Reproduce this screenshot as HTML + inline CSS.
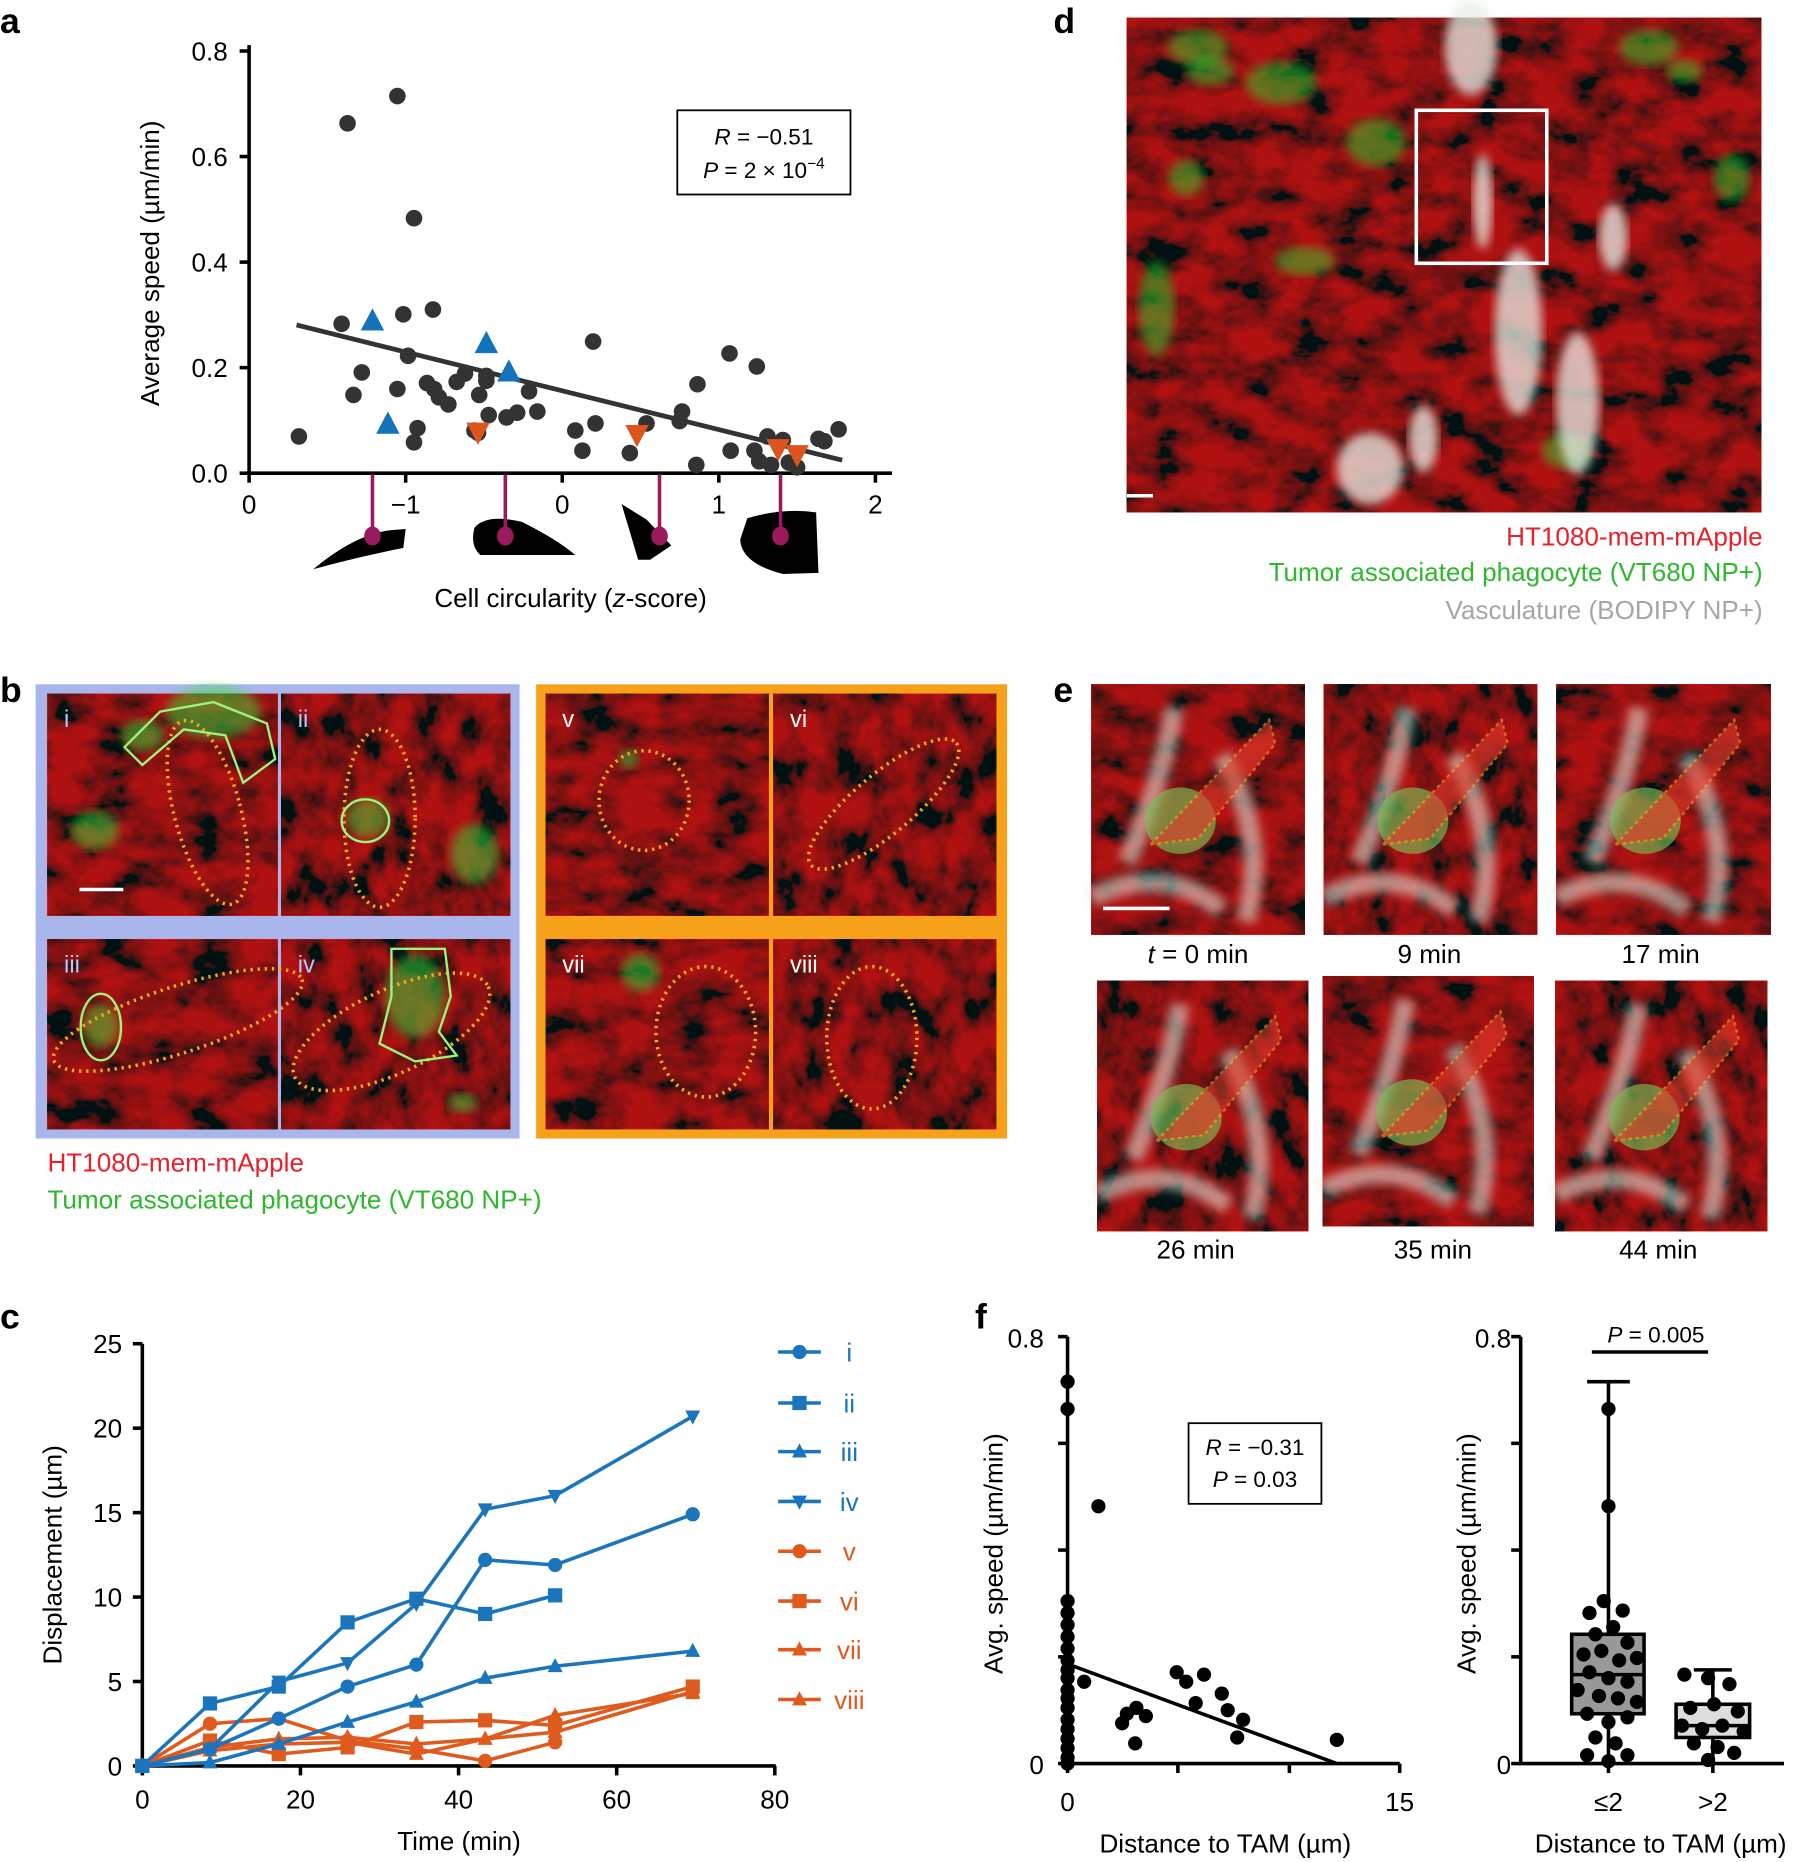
<!DOCTYPE html>
<html><head><meta charset="utf-8"><style>
html,body{margin:0;padding:0;background:#fff}
svg{display:block}
text{font-family:"Liberation Sans",Arial,sans-serif}
</style></head><body>
<svg id="s" width="1803" height="1862" viewBox="0 0 1520 1570" preserveAspectRatio="none" xmlns="http://www.w3.org/2000/svg">
<defs>
<filter id="tex" x="0" y="0" width="100%" height="100%">
<feTurbulence type="fractalNoise" baseFrequency="0.025 0.04" numOctaves="4" seed="3"/>
<feColorMatrix values="2.6 0 0 0 -0.75  0 0 0 0 0.01  0 0 0 0 0.01  0 0 0 0 1"/>
</filter>
<filter id="tex2" x="0" y="0" width="100%" height="100%">
<feTurbulence type="fractalNoise" baseFrequency="0.04 0.03" numOctaves="4" seed="7"/>
<feColorMatrix values="2.6 0 0 0 -0.8  0 0 0 0 0.01  0 0 0 0 0.01  0 0 0 0 1"/>
</filter>
<filter id="bl"><feGaussianBlur stdDeviation="4"/></filter>
</defs>
<g id="g"></g>
</svg>
<script>
const NS="http://www.w3.org/2000/svg";const G=document.getElementById('g');
function el(t,a,txt){const e=document.createElementNS(NS,t);for(const k in a)e.setAttribute(k,a[k]);if(txt!=null)e.textContent=txt;G.appendChild(e);return e;}
function T(x,y,s,o){o=o||{};return el('text',Object.assign({x:x,y:y,'font-size':o.fs||21,'text-anchor':o.a||'middle',fill:o.c||'#000','font-weight':o.w||'normal'},o.ex||{}),s);}
function L(x1,y1,x2,y2,c,w){el('line',{x1,y1,x2,y2,stroke:c||'#000','stroke-width':w||3});}
function tri(x,y,r,up,c){const p=up?`${x},${y-r} ${x-r*0.9},${y+r*0.7} ${x+r*0.9},${y+r*0.7}`:`${x},${y+r} ${x-r*0.9},${y-r*0.7} ${x+r*0.9},${y-r*0.7}`;el('polygon',{points:p,fill:c});}
function mark(type,x,y,c,r){r=r||7;if(type=='c')el('circle',{cx:x,cy:y,r:r,fill:c});else if(type=='s')el('rect',{x:x-r,y:y-r,width:2*r,height:2*r,fill:c});else tri(x,y,r+1,type=='u',c);}
function img(x,y,w,h,seed){el('rect',{x,y,width:w,height:h,fill:'#3a0606'});el('rect',{x,y,width:w,height:h,filter:seed?'url(#tex2)':'url(#tex)',opacity:0.95});el('rect',{x,y,width:w,height:h,fill:'#000',opacity:0.28});}
T(0,28,'a',{a:'start',fs:30,w:'bold'});T(888,28,'d',{a:'start',fs:30,w:'bold'});
T(0,592,'b',{a:'start',fs:30,w:'bold'});T(888,592,'e',{a:'start',fs:30,w:'bold'});
T(0,1120,'c',{a:'start',fs:30,w:'bold'});T(822,1120,'f',{a:'start',fs:30,w:'bold'});
// ===== panel a
L(210,38,210,400);L(208,399,752,399);
[[399,'0.0'],[310,'0.2'],[221,'0.4'],[132,'0.6'],[43,'0.8']].forEach(([y,s])=>{L(202,y,210,y);T(192,y+8,s,{a:'end',fs:22});});
[[210,'0'],[342,'\u22121'],[474,'0'],[606,'1'],[738,'2']].forEach(([x,s])=>{L(x,399,x,407);T(x,433,s,{fs:22});});
T(0,0,'Average speed (\u00b5m/min)',{fs:22,ex:{transform:'translate(134,222) rotate(-90)'}});
el('rect',{x:571,y:93,width:146,height:71,fill:'none',stroke:'#000','stroke-width':1.5});
el('text',{x:644,y:122,'font-size':19,'text-anchor':'middle'}).innerHTML='<tspan font-style="italic">R</tspan> = \u22120.51';
el('text',{x:644,y:150,'font-size':19,'text-anchor':'middle'}).innerHTML='<tspan font-style="italic">P</tspan> = 2 \u00d7 10<tspan dy="-8" font-size="13">\u22124</tspan>';
L(250,274,710,388,'#333',4);
[[252,368],[293,104],[335,81],[349,184],[288,273],[305,314],[298,333],[340,265],[365,261],[344,300],[335,328],[352,361],[349,373],[360,323],[370,335],[378,341],[385,322],[392,315],[404,333],[410,321],[412,350],[400,363],[427,352],[436,348],[446,330],[453,347],[485,363],[491,380],[500,288],[502,357],[531,382],[545,357],[575,347],[573,355],[588,324],[587,392],[615,298],[616,380],[638,309],[636,380],[640,389],[647,368],[650,392],[660,371],[665,390],[690,370],[695,372],[707,362],[672,394],[410,317],[403,365],[366,328]].forEach(([x,y])=>mark('c',x,y,'#333',7));
[[314,271],[327,358],[410,290],[429,314]].forEach(([x,y])=>tri(x,y,11,true,'#1374bb'));
[[403,364],[537,366],[656,378],[672,383]].forEach(([x,y])=>tri(x,y,11,false,'#dc551c'));
el('path',{d:'M264,480 Q300,450 330,447 L342,446 L340,462 Q300,470 264,480Z',fill:'#000'});
el('path',{d:'M400,445 Q410,433 440,440 Q470,455 485,468 L405,468 Q396,460 400,445Z',fill:'#000'});
el('path',{d:'M524,425 L545,438 L566,460 L548,472 L538,472 Q530,445 524,425Z',fill:'#000'});
el('path',{d:'M630,437 Q660,428 688,432 L690,483 L660,484 Q625,475 624,455Z',fill:'#000'});
[314,426,556,658].forEach(x=>{L(x,400,x,452,'#9b1a5f',3);el('ellipse',{cx:x,cy:452,rx:7,ry:8,fill:'#9b1a5f'});});
el('text',{x:481,y:512,'font-size':22,'text-anchor':'middle'}).innerHTML='Cell circularity (<tspan font-style="italic">z</tspan>-score)';
// ===== panel d
img(950,15,535,417,0);
[[1010,40,25,15],[1080,70,30,18],[1160,120,25,20],[975,260,15,40],[1020,60,20,12],[1320,380,20,15],[1460,150,15,20],[1100,220,25,12],[1390,40,25,15],[1000,150,15,15],[1420,60,15,10]].forEach(([x,y,rx,ry])=>el('ellipse',{cx:x,cy:y,rx,ry,fill:'#2fd02f',opacity:0.5,filter:'url(#bl)'}));
[[1240,40,22,40],[1280,280,20,70],[1330,340,18,60],[1155,395,28,30],[1200,370,12,28],[1360,200,12,28],[1250,170,8,40]].forEach(([x,y,rx,ry])=>el('ellipse',{cx:x,cy:y,rx,ry,fill:'#e8efe6',opacity:0.75,filter:'url(#bl)'}));
el('rect',{x:1194,y:93,width:110,height:129,fill:'none',stroke:'#fff','stroke-width':3});
L(950,418,972,418,'#fff',3);
T(1486,460,'HT1080-mem-mApple',{a:'end',fs:22,c:'#e8202a'});
T(1486,490,'Tumor associated phagocyte (VT680 NP+)',{a:'end',fs:22,c:'#2db82d'});
T(1486,522,'Vasculature (BODIPY NP+)',{a:'end',fs:22,c:'#a6a6a6'});
// ===== panel b
el('rect',{x:30,y:577,width:408,height:383,fill:'#a9b6ec'});
el('rect',{x:452,y:577,width:397,height:383,fill:'#f7a11a'});
const bimgs=[[40,585,194,187,'i'],[237,585,193,187,'ii'],[40,792,194,160,'iii'],[237,792,193,160,'iv'],[460,585,188,187,'v'],[652,585,188,187,'vi'],[460,792,188,160,'vii'],[652,792,188,160,'viii']];
bimgs.forEach(([x,y,w,h,s],i)=>{img(x,y,w,h,i%2);T(x+14,y+28,s,{a:'start',fs:20,c:i<4?'#b8c8ff':'#fff'});});
[[180,600,40,22],[120,620,18,13],[310,690,18,16],[85,865,15,18],[350,840,25,35],[400,720,20,25],[80,700,20,16],[530,640,8,8],[540,820,16,16],[390,930,12,8]].forEach(([x,y,rx,ry])=>el('ellipse',{cx:x,cy:y,rx,ry,fill:'#3add3a',opacity:0.5,filter:'url(#bl)'}));
const dot={fill:'none',stroke:'#f5a623','stroke-width':3,'stroke-dasharray':'2 4'};
el('ellipse',Object.assign({cx:175,cy:685,rx:28,ry:80,transform:'rotate(-15 175 685)'},dot));
el('ellipse',Object.assign({cx:320,cy:690,rx:30,ry:75},dot));
el('ellipse',Object.assign({cx:150,cy:860,rx:110,ry:28,transform:'rotate(-18 150 860)'},dot));
el('ellipse',Object.assign({cx:330,cy:870,rx:90,ry:35,transform:'rotate(-25 330 870)'},dot));
el('ellipse',Object.assign({cx:543,cy:675,rx:38,ry:42},dot));
el('ellipse',Object.assign({cx:745,cy:678,rx:80,ry:25,transform:'rotate(-40 745 678)'},dot));
el('ellipse',Object.assign({cx:595,cy:870,rx:42,ry:55},dot));
el('ellipse',Object.assign({cx:735,cy:875,rx:38,ry:60},dot));
const gl={fill:'none',stroke:'#9cf57a','stroke-width':2};
el('path',Object.assign({d:'M105,630 L135,600 L180,592 L225,610 L232,640 L205,660 L190,620 L155,615 L120,645Z'},gl));
el('ellipse',Object.assign({cx:308,cy:692,rx:20,ry:18},gl));
el('ellipse',Object.assign({cx:85,cy:866,rx:17,ry:28},gl));
el('path',Object.assign({d:'M330,800 L375,800 L380,840 L370,870 L385,890 L350,895 L320,880 L330,840Z'},gl));
L(67,750,104,750,'#fff',3);
T(40,988,'HT1080-mem-mApple',{a:'start',fs:22,c:'#e8202a'});
T(40,1019,'Tumor associated phagocyte (VT680 NP+)',{a:'start',fs:22,c:'#2db82d'});
// ===== panel e
const eimgs=[[920,577,180,211],[1116,577,180,211],[1312,577,181,211],[925,827,178,211],[1115,823,178,211],[1311,827,179,211]];
eimgs.forEach(([x,y,w,h],i)=>{img(x,y,w,h,i%2);
el('path',{d:`M${x+70},${y+20} Q${x+60},${y+80} ${x+30},${y+150} M${x+110},${y+60} Q${x+150},${y+130} ${x+130},${y+200} M${x},${y+180} Q${x+60},${y+150} ${x+110},${y+190}`,fill:'none',stroke:'#d8ddd0','stroke-width':16,opacity:0.6,filter:'url(#bl)'});
el('ellipse',{cx:x+75,cy:y+115,rx:30,ry:28,fill:'#7bbf55',opacity:0.65});
el('path',{d:`M${x+50},${y+135} L${x+150},${y+30} L${x+155},${y+50} L${x+90},${y+130}Z`,fill:'#e23a2a',opacity:0.6,stroke:'#f5a623','stroke-dasharray':'3 3','stroke-width':2});});
L(930,766,986,766,'#fff',3);
el('text',{x:1010,y:812,'font-size':22,'text-anchor':'middle'}).innerHTML='<tspan font-style="italic">t</tspan> = 0 min';
T(1205,812,'9 min',{fs:22});T(1400,812,'17 min',{fs:22});
T(1008,1061,'26 min',{fs:22});T(1208,1061,'35 min',{fs:22});T(1398,1061,'44 min',{fs:22});
// ===== panel c
L(120,1133,120,1490);L(118,1489,654,1489);
[0,5,10,15,20,25].forEach(v=>{const y=1489-v*14.24;L(112,y,120,y);T(103,y+8,v,{a:'end',fs:22});});
[0,20,40,60,80].forEach(v=>{const x=120+v*6.665;L(x,1489,x,1497);T(x,1525,v,{fs:22});});
T(0,0,'Displacement (\u00b5m)',{fs:22,ex:{transform:'translate(52,1311) rotate(-90)'}});
T(387,1560,'Time (min)',{fs:22});
const tx=[120,177,235,293,351,409,468,584];
const B='#1a75bc',O='#e05a1e';
const ser=[['c',B,[0,1.0,2.8,4.7,6.0,12.2,11.9,14.9]],['s',B,[0,3.7,4.7,8.5,9.9,9.0,10.1]],['u',B,[0,0.2,1.3,2.6,3.8,5.2,5.9,6.8]],['d',B,[0,1.0,5.0,6.1,9.6,15.2,16.0,20.7]],
['c',O,[0,2.5,2.8,1.5,1.0,0.3,1.4]],['s',O,[0,1.5,0.7,1.1,2.6,2.7,2.4,4.7]],['u',O,[0,1.1,1.6,1.7,1.3,1.6,2.0,4.4]],['u',O,[0,0.9,1.3,1.4,0.7,1.6,3.0,4.3]]];
ser.slice().reverse().forEach(([m,c,v])=>{const pts=v.map((d,i)=>[tx[i],1489-d*14.24]);el('polyline',{points:pts.map(p=>p.join(',')).join(' '),fill:'none',stroke:c,'stroke-width':3});pts.forEach(([x,y])=>mark(m,x,y,c,6));});
const labs=['i','ii','iii','iv','v','vi','vii','viii'],ly=[1140,1183,1224,1266,1308,1350,1391,1433];
ser.forEach(([m,c],i)=>{L(656,ly[i],692,ly[i],c,3);mark(m,674,ly[i],c,6);T(716,ly[i]+8,labs[i],{fs:22,c:c});});
// ===== panel f left
L(900,1127,900,1488);L(899,1487,1180,1487);
[0,0.2,0.4,0.6,0.8].forEach(v=>{const y=1487-v*450;L(892,y,900,y);});
T(880,1136,'0.8',{a:'end',fs:22});T(880,1496,'0',{a:'end',fs:22});
[900,993,1087,1180].forEach(x=>L(x,1487,x,1495));
T(900,1527,'0',{fs:22});T(1180,1527,'15',{fs:22});
T(0,0,'Avg. speed (\u00b5m/min)',{fs:22,ex:{transform:'translate(845,1310) rotate(-90)'}});
T(1033,1562,'Distance to TAM (\u00b5m)',{fs:22});
[1165,1188,1350,1360,1370,1380,1390,1400,1408,1415,1425,1432,1440,1450,1458,1466,1474,1482,1487].forEach(y=>mark('c',900,y,'#000',6));
[[926,1270],[950,1445],[958,1440],[966,1447],[946,1453],[957,1470],[992,1410],[1000,1418],[1015,1412],[1008,1436],[1030,1428],[1035,1442],[1048,1450],[1043,1465],[1127,1467],[914,1418]].forEach(([x,y])=>mark('c',x,y,'#000',6));
L(900,1403,1127,1487,'#000',3);
el('rect',{x:1002,y:1200,width:112,height:68,fill:'none',stroke:'#000','stroke-width':1.5});
el('text',{x:1058,y:1227,'font-size':19,'text-anchor':'middle'}).innerHTML='<tspan font-style="italic">R</tspan> = \u22120.31';
el('text',{x:1058,y:1254,'font-size':19,'text-anchor':'middle'}).innerHTML='<tspan font-style="italic">P</tspan> = 0.03';
// ===== panel f right
L(1282,1127,1282,1488);L(1281,1487,1504,1487);
[0,0.2,0.4,0.6,0.8].forEach(v=>{const y=1487-v*450;L(1274,y,1282,y);});
T(1274,1136,'0.8',{a:'end',fs:22});T(1274,1496,'0',{a:'end',fs:22});
L(1356,1487,1356,1495);L(1444,1487,1444,1495);
T(1356,1527,'\u22642',{fs:22});T(1444,1527,'>2',{fs:22});
T(0,0,'Avg. speed (\u00b5m/min)',{fs:22,ex:{transform:'translate(1244,1310) rotate(-90)'}});
T(1400,1562,'Distance to TAM (\u00b5m)',{fs:22});
L(1356,1165,1356,1487,'#000',3);L(1338,1165,1374,1165,'#000',3);
el('rect',{x:1325,y:1378,width:61,height:67,fill:'#999',stroke:'#000','stroke-width':3});L(1325,1412,1386,1412,'#000',3);
L(1444,1408,1444,1487,'#000',3);L(1428,1408,1460,1408,'#000',3);
el('rect',{x:1413,y:1437,width:62,height:28,fill:'#ddd',stroke:'#000','stroke-width':3});L(1413,1455,1475,1455,'#000',3);
[[1356,1188],[1356,1270],[1352,1350],[1340,1360],[1368,1358],[1345,1378],[1360,1372],[1372,1385],[1335,1395],[1350,1392],[1365,1400],[1380,1398],[1340,1410],[1356,1415],[1372,1418],[1330,1425],[1348,1430],[1364,1432],[1380,1435],[1338,1445],[1356,1452],[1372,1448],[1345,1465],[1362,1470],[1338,1480],[1356,1485],[1372,1480],
[1420,1412],[1440,1415],[1458,1420],[1425,1440],[1445,1437],[1465,1443],[1418,1455],[1435,1458],[1452,1455],[1470,1460],[1428,1470],[1448,1473],[1462,1478],[1440,1484]].forEach(([x,y])=>mark('c',x,y,'#000',6));
L(1342,1140,1440,1140,'#000',3);
el('text',{x:1396,y:1132,'font-size':19,'text-anchor':'middle'}).innerHTML='<tspan font-style="italic">P</tspan> = 0.005';
</script>
</body></html>
